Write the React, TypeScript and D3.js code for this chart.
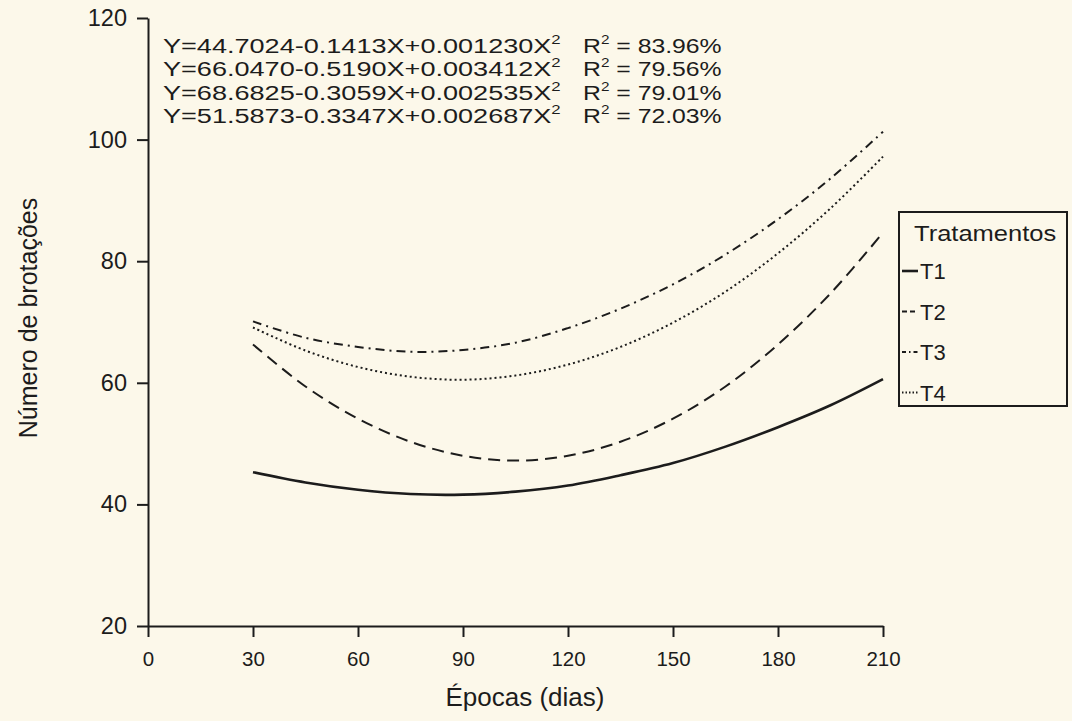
import { useEffect, useRef } from 'react';
import * as d3 from 'd3';

// values
const epocas = [30, 45, 60, 75, 90, 105, 120, 135, 150, 165, 180, 195, 210];
const t1 = [45.3, 43.6, 42.4, 41.7, 41.6, 42.1, 43.1, 44.8, 46.8, 49.5, 52.7, 56.3, 60.6];
const t2 = [66.3, 59.4, 54.1, 50.3, 48.0, 47.2, 48.0, 50.3, 54.1, 59.4, 66.3, 74.7, 84.7];
const t3 = [70.1, 67.4, 65.9, 65.1, 65.4, 66.6, 69.0, 72.2, 76.2, 81.1, 86.9, 93.6, 101.3];
const t4 = [69.1, 65.3, 62.6, 61.0, 60.5, 61.2, 63.0, 65.9, 69.9, 75.0, 81.3, 88.7, 97.2];
const seriesNames = ['T1', 'T2', 'T3', 'T4'];
const dashes = [null, '12,7', '9,5,2,5', '2,3'];
const legendDashes = [null, '5,3', '4,3,1.5,3', '1.5,2'];
const xTicks = [0, 30, 60, 90, 120, 150, 180, 210];
const yTicks = [20, 40, 60, 80, 100, 120];
const equations = [
  'Y=44.7024-0.1413X+0.001230X',
  'Y=66.0470-0.5190X+0.003412X',
  'Y=68.6825-0.3059X+0.002535X',
  'Y=51.5873-0.3347X+0.002687X',
];
const r2 = ['83.96%', '79.56%', '79.01%', '72.03%'];

const FONT = '"Liberation Sans", Arial, Helvetica, sans-serif';
const INK = '#1c1c1c';

const App = () => {
  const ref = useRef(null);

  useEffect(() => {
    d3.select(ref.current).selectAll('*').remove();
    const svg = d3.select(ref.current);

    svg.append('rect').attr('width', 1072).attr('height', 721).attr('fill', '#fcf8ea');

    const x = d3.scaleLinear().domain([0, 210]).range([148, 883]);
    const y = d3.scaleLinear().domain([20, 120]).range([626, 18]);

    // axes
    const xAxis = d3.axisBottom(x).tickValues(xTicks).tickSize(11).tickSizeOuter(0).tickPadding(14);
    const yAxis = d3.axisLeft(y).tickValues(yTicks).tickSize(11).tickSizeOuter(0).tickPadding(10);
    const gx = svg.append('g').attr('transform', `translate(0, ${y(20)})`).call(xAxis);
    const gy = svg.append('g').attr('transform', `translate(${x(0)}, 0)`).call(yAxis);
    [gx, gy].forEach(g => {
      g.selectAll('path, line').attr('stroke', INK).attr('stroke-width', 2);
      g.selectAll('text').attr('fill', INK).style('font-family', FONT);
    });
    gx.selectAll('text').style('font-size', '20.5px');
    gy.selectAll('text').style('font-size', '23.5px');

    // curves
    const all = [t1, t2, t3, t4];
    const line = d3.line()
      .x((d, i) => x(epocas[i]))
      .y(d => y(d))
      .curve(d3.curveCatmullRom);
    all.forEach((s, k) => {
      svg.append('path')
        .datum(s)
        .attr('fill', 'none')
        .attr('stroke', INK)
        .attr('stroke-width', k === 0 ? 2.6 : 2)
        .attr('stroke-dasharray', dashes[k])
        .attr('d', line);
    });

    // equations (the scan is a bit wider than the font, hence the x-scale)
    const eq = svg.append('g').style('font-family', FONT).attr('fill', INK);
    equations.forEach((e, i) => {
      const by = 53 + i * 23.3;
      const t = eq.append('text')
        .attr('transform', `translate(163, ${by}) scale(1.29, 1)`)
        .style('font-size', '21px');
      t.append('tspan').text(e);
      t.append('tspan').attr('dy', -9).style('font-size', '13px').text('2');
      const tr = eq.append('text')
        .attr('transform', `translate(583, ${by}) scale(1.18, 1)`)
        .style('font-size', '21px');
      tr.append('tspan').text('R');
      tr.append('tspan').attr('dy', -9).style('font-size', '13px').text('2');
      tr.append('tspan').attr('dy', 9).text(` = ${r2[i]}`);
    });

    // axis titles
    svg.append('text')
      .attr('transform', 'translate(37, 318) rotate(-90)')
      .attr('text-anchor', 'middle')
      .attr('fill', INK)
      .style('font-family', FONT).style('font-size', '25px')
      .text('Número de brotações');
    svg.append('text')
      .attr('x', 525).attr('y', 706)
      .attr('text-anchor', 'middle')
      .attr('fill', INK)
      .style('font-family', FONT).style('font-size', '26px')
      .text('Épocas (dias)');

    // legend
    const lg = svg.append('g');
    lg.append('rect')
      .attr('x', 899).attr('y', 212).attr('width', 168).attr('height', 194)
      .attr('fill', 'none').attr('stroke', INK).attr('stroke-width', 2);
    lg.append('text')
      .attr('transform', 'translate(914, 241) scale(1.16, 1)')
      .attr('fill', INK)
      .style('font-family', FONT).style('font-size', '22px')
      .text('Tratamentos');
    seriesNames.forEach((n, i) => {
      const cy = 271 + i * 40.5;
      lg.append('line')
        .attr('x1', 902).attr('x2', 918).attr('y1', cy).attr('y2', cy)
        .attr('stroke', INK).attr('stroke-width', i === 0 ? 2.6 : 2)
        .attr('stroke-dasharray', legendDashes[i]);
      lg.append('text')
        .attr('x', 920).attr('y', cy + 8)
        .attr('fill', INK)
        .style('font-family', FONT).style('font-size', '22px')
        .text(n);
    });
  }, []);

  return (
    <svg ref={ref} width={1072} height={721} style={{ position: 'absolute', left: 0, top: 0 }} />
  );
};

export default App;
